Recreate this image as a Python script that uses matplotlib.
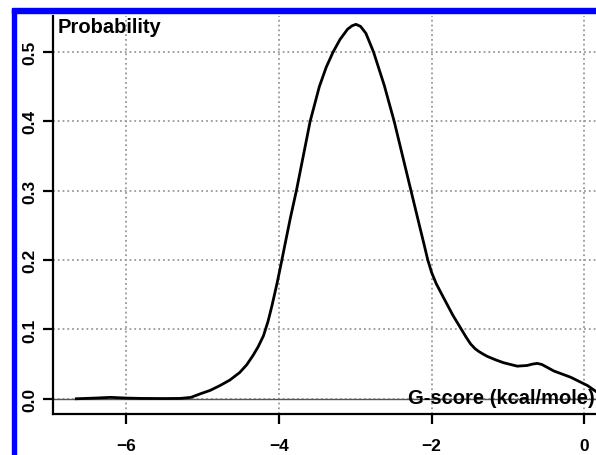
import matplotlib.pyplot as plt
from matplotlib.patches import Rectangle

# densité
g_score = [-6.65, -6.4, -6.2, -6.0, -5.8, -5.5, -5.29, -5.15, -5.03, -4.9,
           -4.77, -4.64, -4.51, -4.42, -4.34, -4.27, -4.2, -4.14, -4.09, -4.02,
           -3.96, -3.92, -3.85, -3.77, -3.68, -3.59, -3.47, -3.38, -3.29, -3.2,
           -3.1, -3.04, -2.99, -2.93, -2.86, -2.76, -2.62, -2.49, -2.38, -2.27,
           -2.16, -2.1, -2.05, -2.0, -1.94, -1.85, -1.72, -1.61, -1.55, -1.49,
           -1.43, -1.38, -1.32, -1.27, -1.16, -1.06, -0.88, -0.75, -0.68, -0.62,
           -0.56, -0.5, -0.4, -0.18, 0.04, 0.157]
probability = [0.0, 0.001, 0.002, 0.001, 0.0005, 0.0003, 0.0005, 0.002,
               0.007, 0.012, 0.019, 0.027, 0.038, 0.049, 0.062, 0.075, 0.091,
               0.112, 0.134, 0.168, 0.2, 0.222, 0.26, 0.3, 0.35, 0.4, 0.45,
               0.478, 0.5, 0.518, 0.533, 0.538, 0.54, 0.537, 0.527, 0.5, 0.452,
               0.4, 0.35, 0.3, 0.25, 0.223, 0.2, 0.182, 0.166, 0.147, 0.12,
               0.1, 0.089, 0.079, 0.072, 0.068, 0.064, 0.061, 0.056, 0.052,
               0.047, 0.048, 0.050, 0.051, 0.0495, 0.046, 0.04, 0.031, 0.019,
               0.01]

xticks = [-6, -4, -2, 0]
yticks = [0.0, 0.1, 0.2, 0.3, 0.4, 0.5]

plt.rcParams['font.family'] = 'Liberation Sans'
plt.rcParams['font.weight'] = 'bold'

fig = plt.figure(figsize=(5.96, 4.56), dpi=100)
ax = fig.add_axes([0.0889, 0.0899, 0.911, 0.8728])

ax.plot(g_score, probability, color='black', lw=2.0, zorder=3,
        solid_joinstyle='round')
ax.axhline(0, color='#555555', lw=1.0, zorder=2)

ax.set_xlim(-6.955, 0.15)
ax.set_ylim(-0.022, 0.552)
ax.set_xticks(xticks)
ax.set_xticklabels(['\u22126', '\u22124', '\u22122', '0'])
ax.set_yticks(yticks)
ax.set_yticklabels(['0.0', '0.1', '0.2', '0.3', '0.4', '0.5'],
                   rotation=90, va='center')
ax.tick_params(axis='both', labelsize=12.5, width=1.6, length=7)
ax.tick_params(axis='x', pad=10)
ax.tick_params(axis='y', pad=4.5)

ax.grid(True, color='#999999', ls=':', lw=1.3)
for s in ['top', 'right']:
    ax.spines[s].set_visible(False)
for s in ['left', 'bottom']:
    ax.spines[s].set_linewidth(1.6)

fig.text(58 / 596, 1 - 33 / 456, 'Probability', fontsize=14.5, fontweight='bold')
fig.text(0.998, 1 - 404 / 456, 'G-score (kcal/mole)', fontsize=14.5,
         fontweight='bold', ha='right')

# cadre bleu
fig.patches.append(Rectangle((12 / 596, 0), 4 / 596, 1 - 10 / 456,
                             transform=fig.transFigure, color='blue'))
fig.patches.append(Rectangle((12 / 596, 1 - 14 / 456), 1, 5 / 456,
                             transform=fig.transFigure, color='blue'))

fig.savefig('out.png', dpi=100)
